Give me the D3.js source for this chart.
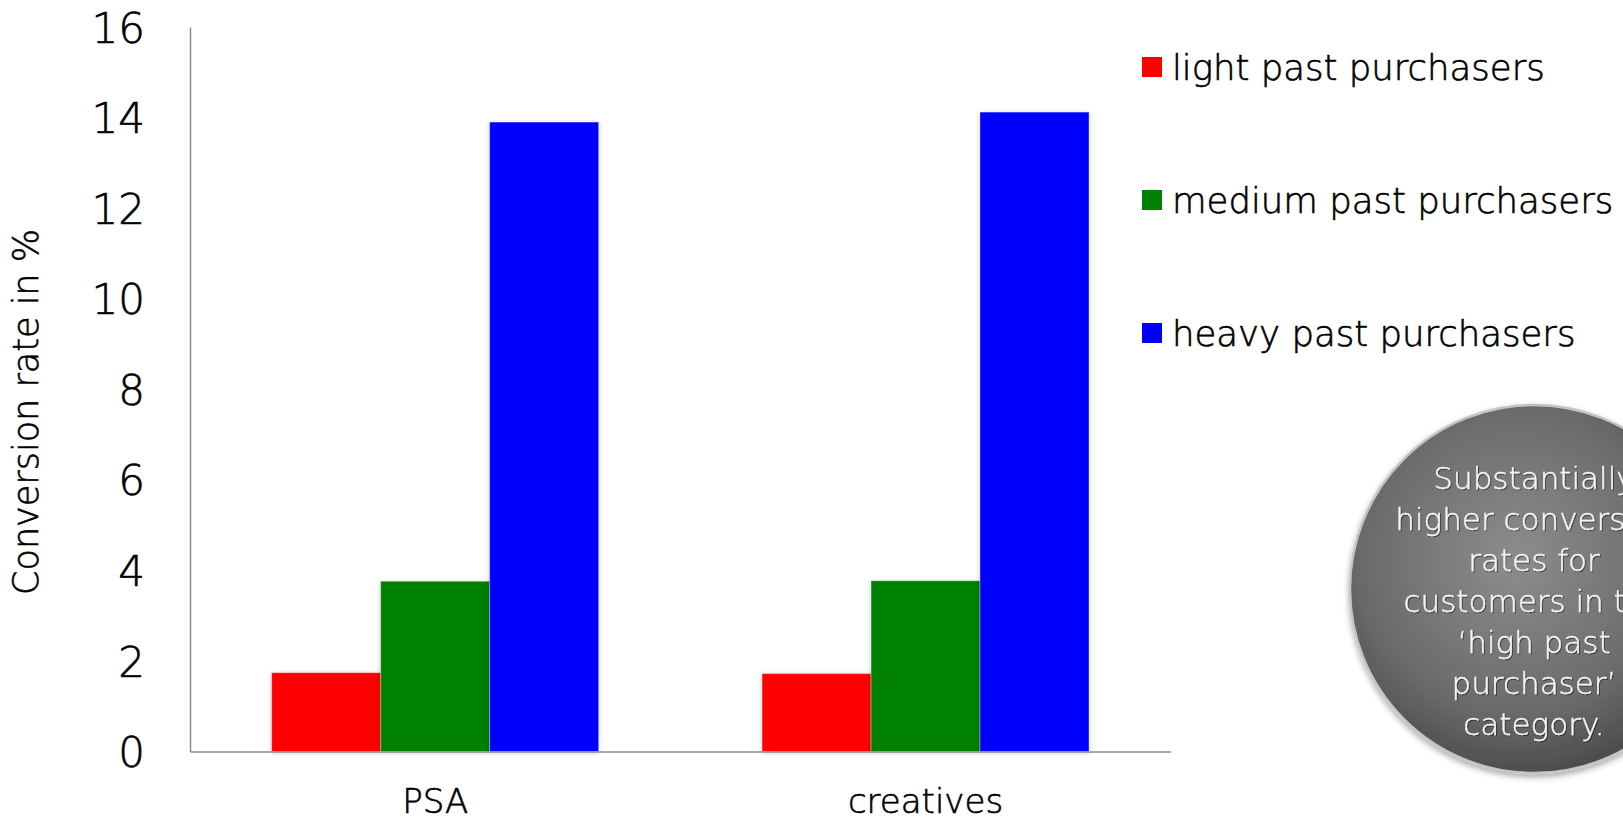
<!DOCTYPE html>
<html>
<head>
<meta charset="utf-8">
<script src="https://cdn.jsdelivr.net/npm/d3@7"></script>
<style>
  html, body { margin: 0; padding: 0; background: #ffffff; }
  svg { display: block; }
  text { font-family: "DejaVu Sans ExtraLight", "DejaVu Sans", "Noto Sans", sans-serif; font-weight: 200; }
  .ink { stroke: #000; stroke-width: 0.6px; }
  .note-text { stroke: #f4f4f4; stroke-width: 0.4px; }
</style>
</head>
<body>
<svg id="chart" width="1623" height="817"></svg>
<script>
// Conversion rate by ad type and past-purchase segment
const categories = ["PSA", "creatives"];
const seriesNames = ["light past purchasers", "medium past purchasers", "heavy past purchasers"];
const lightValues = [1.74, 1.72];
const mediumValues = [3.76, 3.77];
const heavyValues = [13.9, 14.12];
const seriesColors = ["#ff0000", "#008000", "#0000ff"];
const yTicks = [0, 2, 4, 6, 8, 10, 12, 14, 16];
const yTitle = "Conversion rate in %";
const noteLines = ["Substantially", "higher conversion", "rates for", "customers in the", "\u2018high past", "purchaser\u2019", "category."];

const seriesValues = [lightValues, mediumValues, heavyValues];
const rows = categories.map((c, i) => ({
  category: c,
  values: seriesNames.map((s, j) => ({ series: s, value: seriesValues[j][i], color: seriesColors[j] }))
}));

const svg = d3.select("#chart");
const plot = { left: 190, right: 1170.7, top: 27, bottom: 751.5 };
const fontStack = "'DejaVu Sans ExtraLight', 'DejaVu Sans', sans-serif";

const defs = svg.append("defs");
const shadow = defs.append("filter").attr("id", "barShadow")
  .attr("x", "-10%").attr("y", "-5%").attr("width", "120%").attr("height", "110%");
shadow.append("feDropShadow").attr("dx", 0).attr("dy", 1).attr("stdDeviation", 2)
  .attr("flood-color", "#000").attr("flood-opacity", 0.25);

const y = d3.scaleLinear().domain([0, 16]).range([plot.bottom, plot.top]);
const x0 = d3.scaleBand().domain(categories).range([plot.left, plot.right])
  .paddingInner(1 / 3).paddingOuter(1 / 6);
const x1 = d3.scaleBand().domain(seriesNames).range([0, x0.bandwidth()]).padding(0);

// Bars
const groups = svg.append("g").selectAll("g").data(rows).join("g")
  .attr("transform", d => `translate(${x0(d.category)},0)`);
groups.selectAll("rect").data(d => d.values).join("rect")
  .attr("x", d => x1(d.series))
  .attr("y", d => y(d.value))
  .attr("width", x1.bandwidth())
  .attr("height", d => y(0) - y(d.value))
  .attr("fill", d => d.color)
  .attr("stroke", "rgba(255,255,255,0.3)")
  .attr("stroke-width", 1)
  .attr("filter", "url(#barShadow)");

// Y axis
const yAxis = d3.axisLeft(y).tickValues(yTicks).tickSize(0).tickPadding(45).tickFormat(d3.format("d"));
const yg = svg.append("g").attr("transform", `translate(${plot.left},0)`).call(yAxis);
yg.select(".domain").attr("stroke", "#8c8c8c").attr("stroke-width", 1.5);
yg.selectAll(".tick text").attr("class", "ink").attr("font-size", 42).attr("fill", "#000")
  .attr("font-family", fontStack).attr("font-weight", 200).attr("dy", "0.36em");

// X axis
const xAxis = d3.axisBottom(x0).tickSize(0).tickPadding(37);
const xg = svg.append("g").attr("transform", `translate(0,${plot.bottom})`).call(xAxis);
xg.select(".domain").attr("stroke", "#8c8c8c").attr("stroke-width", 1.5);
xg.selectAll(".tick text").attr("class", "ink").attr("font-size", 34).attr("fill", "#000")
  .attr("font-family", fontStack).attr("font-weight", 200).attr("dy", "0.71em");

// Y axis title
svg.append("text")
  .attr("class", "ink")
  .attr("transform", "translate(26,412) rotate(-90)")
  .attr("text-anchor", "middle")
  .attr("dominant-baseline", "central")
  .attr("font-size", 35)
  .attr("fill", "#000")
  .text(yTitle);

// Legend
const legend = svg.append("g").attr("transform", "translate(1142,57)");
const li = legend.selectAll("g").data(seriesNames).join("g")
  .attr("transform", (d, i) => `translate(0,${i * 133})`);
li.append("rect").attr("width", 20).attr("height", 20).attr("fill", (d, i) => seriesColors[i]);
li.append("text").attr("class", "ink").attr("x", 30).attr("y", 23)
  .attr("font-size", 35.5).attr("fill", "#000").text(d => d);

// Callout circle
const grad = defs.append("radialGradient").attr("id", "noteGrad")
  .attr("cx", "45%").attr("cy", "42%").attr("r", "60%");
grad.append("stop").attr("offset", "0%").attr("stop-color", "#8d8d8d");
grad.append("stop").attr("offset", "70%").attr("stop-color", "#6a6a6a");
grad.append("stop").attr("offset", "100%").attr("stop-color", "#4a4a4a");
const noteShadow = defs.append("filter").attr("id", "noteShadow")
  .attr("x", "-20%").attr("y", "-20%").attr("width", "140%").attr("height", "140%");
noteShadow.append("feDropShadow").attr("dx", 0).attr("dy", 3).attr("stdDeviation", 3)
  .attr("flood-color", "#000").attr("flood-opacity", 0.35);
const textShadow = defs.append("filter").attr("id", "textShadow")
  .attr("x", "-10%").attr("y", "-30%").attr("width", "120%").attr("height", "160%");
textShadow.append("feDropShadow").attr("dx", 1).attr("dy", 1).attr("stdDeviation", 0.7)
  .attr("flood-color", "#000").attr("flood-opacity", 0.5);

const note = { cx: 1534, cy: 589, r: 184 };
svg.append("circle")
  .attr("cx", note.cx).attr("cy", note.cy).attr("r", note.r)
  .attr("fill", "url(#noteGrad)")
  .attr("stroke", "#c4c4c4").attr("stroke-width", 2.5)
  .attr("filter", "url(#noteShadow)");

svg.append("g").attr("filter", "url(#textShadow)")
  .selectAll("text").data(noteLines).join("text")
  .attr("class", "note-text")
  .attr("x", note.cx)
  .attr("y", (d, i) => 489 + i * 41)
  .attr("text-anchor", "middle")
  .attr("font-size", 31)
  .attr("fill", "#f4f4f4")
  .text(d => d);
</script>
</body>
</html>
